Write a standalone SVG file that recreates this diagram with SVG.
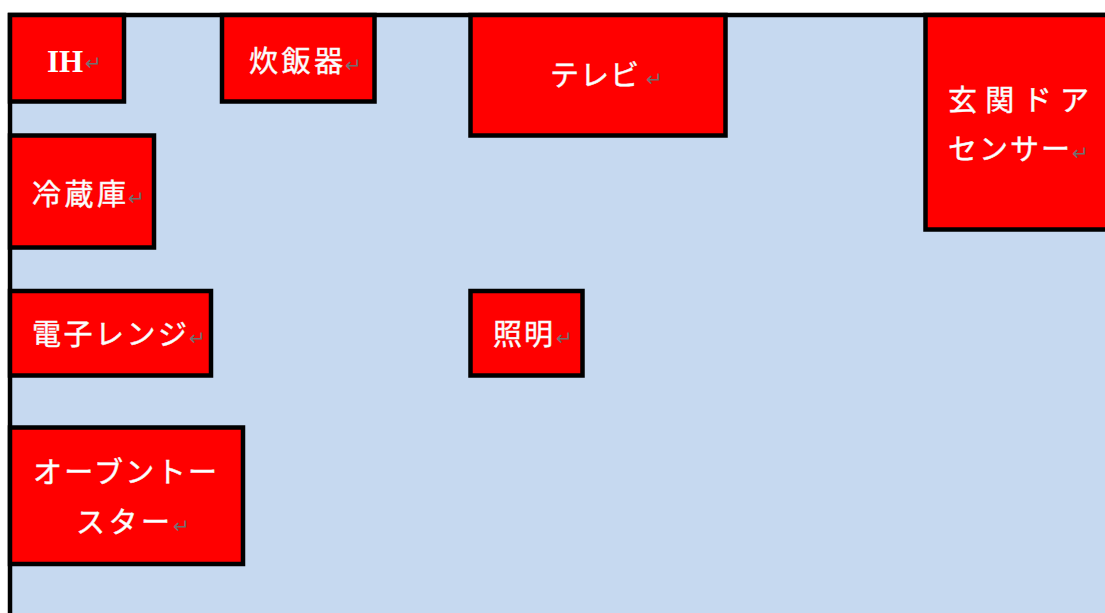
<svg xmlns="http://www.w3.org/2000/svg" width="1105" height="613" viewBox="0 0 1105 613">
<style>
.box{fill:#FF0000;stroke:#000;stroke-width:4.5}
.lbl{font-family:"Noto Sans CJK JP",sans-serif;font-size:29px;font-weight:400;fill:#fff;stroke:#f0f0f0;stroke-width:0.5}
.ih{font-family:"Liberation Serif","Noto Sans CJK JP",serif;font-weight:bold;font-size:31px;fill:#fff}
.ret{font-family:"DejaVu Sans",sans-serif;font-size:20px;fill:#707070}
</style>
<rect width="1105" height="613" fill="#fff"/>
<rect x="10" y="15" width="1095" height="598" fill="#C6D9F0"/>
<path d="M10,613 V15 H1105" fill="none" stroke="#000" stroke-width="4.5"/>
<g id="connectors"></g>
<g id="ih">
<rect class="box" x="10" y="15" width="114" height="86.5"/>
<text class="ih" x="47" y="72">IH</text>
<text class="ret" x="85" y="70">↵</text>
</g>
<g id="suihanki">
<rect class="box" x="222" y="15" width="152.5" height="86.5"/>
<text class="lbl" x="249" y="72" textLength="94" lengthAdjust="spacing">炊飯器</text>
<text class="ret" x="345" y="72">↵</text>
</g>
<g id="reizouko">
<rect class="box" x="10" y="135.5" width="144" height="112"/>
<text class="lbl" x="32" y="205" textLength="94" lengthAdjust="spacing">冷蔵庫</text>
<text class="ret" x="128" y="205">↵</text>
</g>
<g id="tv">
<rect class="box" x="470.5" y="15" width="255" height="120.5"/>
<text class="lbl" x="550" y="86" textLength="89" lengthAdjust="spacing">テレビ</text>
<text class="ret" x="646" y="86">↵</text>
</g>
<g id="door-sensor">
<rect class="box" x="925.5" y="15" width="185" height="214.5"/>
<text class="lbl" x="948" y="111" textLength="141" lengthAdjust="spacing">玄関ドア</text>
<text class="lbl" x="948" y="160" textLength="122" lengthAdjust="spacing">センサー</text>
<text class="ret" x="1072" y="160">↵</text>
</g>
<g id="microwave">
<rect class="box" x="10" y="291" width="201" height="84.5"/>
<text class="lbl" x="32" y="345" textLength="155" lengthAdjust="spacing">電子レンジ</text>
<text class="ret" x="189" y="345">↵</text>
</g>
<g id="light">
<rect class="box" x="470.5" y="291" width="112" height="84.5"/>
<text class="lbl" x="493" y="345" textLength="60" lengthAdjust="spacing">照明</text>
<text class="ret" x="556" y="345">↵</text>
</g>
<g id="toaster">
<rect class="box" x="10" y="427.5" width="233" height="136.5"/>
<text class="lbl" x="33" y="483" textLength="184" lengthAdjust="spacing">オーブントー</text>
<text class="lbl" x="76" y="533" textLength="94" lengthAdjust="spacing">スター</text>
<text class="ret" x="173" y="533">↵</text>
</g>
</svg>
